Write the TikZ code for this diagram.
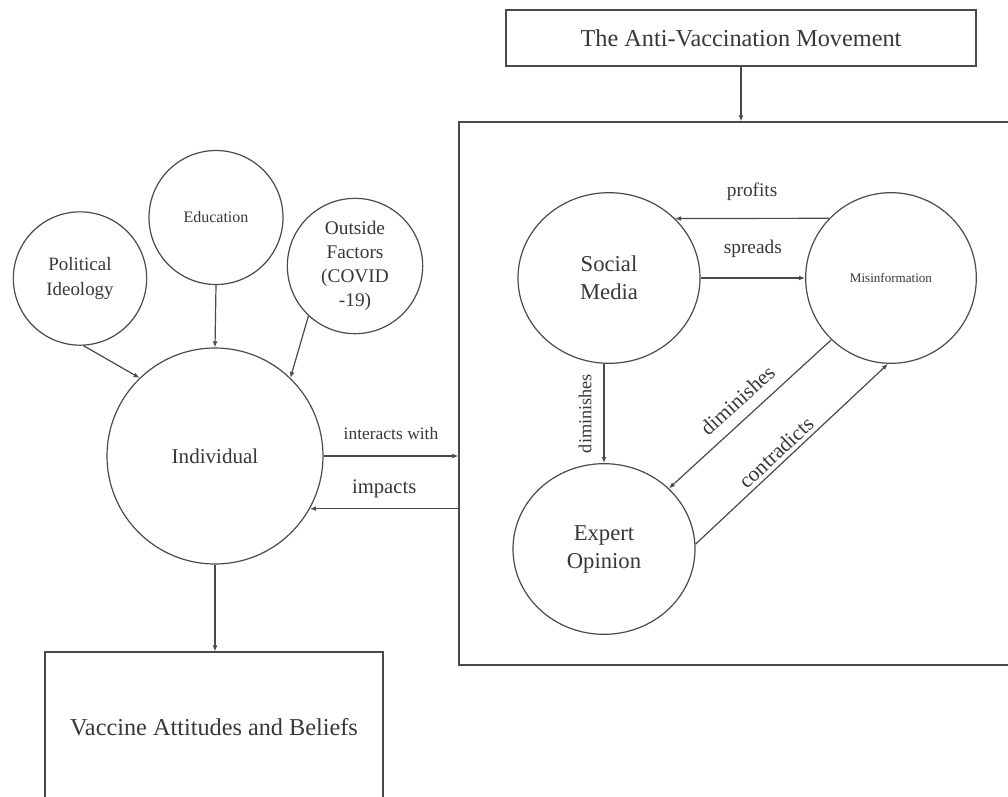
\documentclass[tikz,border=0pt]{standalone}
\usepackage{fontspec}
\setmainfont{Liberation Serif}
\usepackage{tikz}
\usetikzlibrary{arrows.meta,shapes.geometric}
\definecolor{ink}{HTML}{383838}
\definecolor{rule}{HTML}{4A4A4A}

\begin{document}
\begin{tikzpicture}[x=0.75pt,y=-0.75pt,>={Latex[length=4.5pt,width=3.6pt]},line width=0.9pt,
  bubble/.style={draw=rule,circle,inner sep=0pt,align=center,text=ink},
  oval/.style={draw=rule,ellipse,inner sep=0pt,align=center,text=ink,minimum width=136.5pt,minimum height=128pt,font=\fontsize{17}{21}\selectfont},
  panel/.style={draw=rule,rectangle,inner sep=0pt,align=center,text=ink},
  link/.style={->,draw=rule},
  lbl/.style={text=ink,inner sep=0pt}]
  \path[use as bounding box,fill=white] (0,0) rectangle (1008,797);
  % boxes
  \node[panel,minimum width=352.5pt,minimum height=42pt,font=\fontsize{18.2}{22}\selectfont] (movement) at (741,38) {The Anti-Vaccination Movement};
  \node[panel,minimum width=428.25pt,minimum height=407.25pt] (field) at (744.5,393.5) {};
  \node[panel,minimum width=253.5pt,minimum height=112.5pt,font=\fontsize{18.2}{22}\selectfont] (beliefs) at (214,727) {Vaccine Attitudes and Beliefs};
  % inside the movement
  \node[oval] (social) at (609,278) {Social\\Media};
  \node[bubble,minimum size=128pt,font=\fontsize{9.8}{12}\selectfont] (misinfo) at (891,278) {Misinformation};
  \node[oval] (expert) at (604,549) {Expert\\Opinion};
  % the individual and what shapes it
  \node[bubble,minimum size=162pt,font=\fontsize{15.8}{19}\selectfont] (indiv) at (215,456) {Individual};
  \node[bubble,minimum size=100pt,font=\fontsize{14.2}{18.75}\selectfont] (polit) at (80,278.5) {Political\\Ideology};
  \node[bubble,minimum size=100.5pt,font=\fontsize{12}{14}\selectfont] (edu) at (216,217.5) {Education};
  \node[bubble,minimum size=101.5pt,font=\fontsize{14.5}{18}\selectfont] (outside) at (355,266) {Outside\\Factors\\(COVID\\-19)};
  % arrows
  \draw[link] (movement.south) -- (movement.south |- field.north);
  \draw[link] (polit.-87) -- (indiv.134);
  \draw[link] (edu.south) -- (indiv.north);
  \draw[link] (outside.227) -- (indiv.46);
  \draw[link] (indiv.south) -- (indiv.south |- beliefs.north);
  \draw[link] (indiv.east) -- node[lbl,above,inner sep=12pt,font=\fontsize{13.1}{15}\selectfont] {interacts with} (indiv.east -| field.west);
  \draw[link] (indiv.-29 -| field.west) -- node[lbl,above,inner sep=7.3pt,font=\fontsize{15.5}{18}\selectfont] {impacts} (indiv.-29);
  \draw[link] (misinfo.136) -- node[lbl,above,inner sep=13pt,font=\fontsize{14.5}{17}\selectfont] {profits} (social.42);
  \draw[link] (social.east) -- node[lbl,above,inner sep=14.5pt,font=\fontsize{14.5}{17}\selectfont] {spreads} (misinfo.west);
  \draw[link,<-] (expert.north) -- node[lbl,sloped,above,inner sep=8.8pt,font=\fontsize{13.7}{16}\selectfont] {diminishes} (expert.north |- social.south);
  \draw[link] (misinfo.226) -- node[lbl,sloped,above,inner sep=8pt,font=\fontsize{16}{19}\selectfont] {diminishes} (expert.43);
  \draw[link] (expert.3) -- node[lbl,sloped,above,pos=0.46,inner sep=2.8pt,font=\fontsize{16}{19}\selectfont] {contradicts} (misinfo.268);
\end{tikzpicture}
\end{document}
